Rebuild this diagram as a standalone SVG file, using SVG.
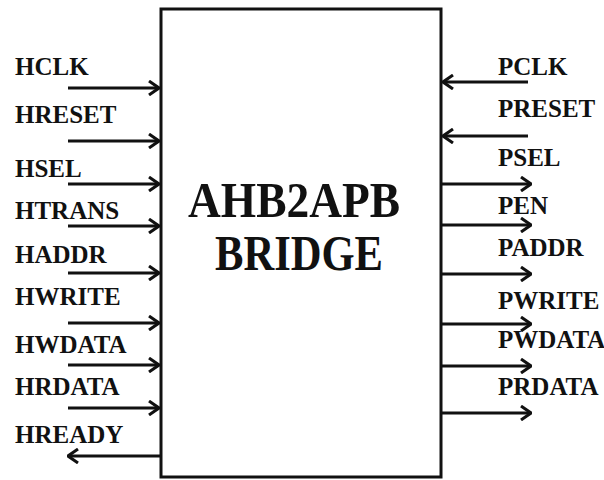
<svg xmlns="http://www.w3.org/2000/svg" width="604" height="480" viewBox="0 0 604 480">
<style>
.lbl{font-family:"Liberation Serif","Times New Roman",serif;font-weight:bold;font-size:25px;fill:#111}
.ttl{font-family:"Liberation Serif","Times New Roman",serif;font-weight:bold;font-size:51px;fill:#111}
.w{stroke:#111;stroke-width:3;fill:none}
.ah{fill:none;stroke:#111;stroke-width:3;stroke-linejoin:miter}
</style>
<defs>
<marker id="arr" viewBox="0 0 12 16" refX="11" refY="8" markerWidth="12" markerHeight="16" markerUnits="userSpaceOnUse" orient="auto">
<path d="M1,1 L11,8 L1,15" class="ah"/>
</marker>
</defs>
<rect width="604" height="480" fill="#fff"/>
<g id="bridge">
<rect x="161" y="9" width="280" height="468" fill="#fff" stroke="#111" stroke-width="3"/>
<text class="ttl" x="294" y="217" text-anchor="middle" textLength="212" lengthAdjust="spacingAndGlyphs">AHB2APB</text>
<text class="ttl" x="299" y="270" text-anchor="middle" textLength="168" lengthAdjust="spacingAndGlyphs">BRIDGE</text>
</g>
<g id="labels-left">
<text class="lbl" x="15" y="75">HCLK</text>
<text class="lbl" x="15" y="123">HRESET</text>
<text class="lbl" x="15" y="177">HSEL</text>
<text class="lbl" x="15" y="219">HTRANS</text>
<text class="lbl" x="15" y="263">HADDR</text>
<text class="lbl" x="15" y="305">HWRITE</text>
<text class="lbl" x="15" y="353">HWDATA</text>
<text class="lbl" x="15" y="395">HRDATA</text>
<text class="lbl" x="15" y="443">HREADY</text>
</g>
<g id="labels-right">
<text class="lbl" x="498" y="75">PCLK</text>
<text class="lbl" x="498" y="117">PRESET</text>
<text class="lbl" x="498" y="166">PSEL</text>
<text class="lbl" x="498" y="214">PEN</text>
<text class="lbl" x="498" y="256">PADDR</text>
<text class="lbl" x="498" y="309">PWRITE</text>
<text class="lbl" x="498" y="348">PWDATA</text>
<text class="lbl" x="498" y="395">PRDATA</text>
</g>
<g id="connectors">
<line class="w" x1="68" y1="88" x2="159" y2="88" marker-end="url(#arr)"/>
<line class="w" x1="68" y1="141" x2="159" y2="141" marker-end="url(#arr)"/>
<line class="w" x1="68" y1="184" x2="159" y2="184" marker-end="url(#arr)"/>
<line class="w" x1="68" y1="226" x2="159" y2="226" marker-end="url(#arr)"/>
<line class="w" x1="68" y1="273" x2="159" y2="273" marker-end="url(#arr)"/>
<line class="w" x1="68" y1="323" x2="159" y2="323" marker-end="url(#arr)"/>
<line class="w" x1="68" y1="365" x2="159" y2="365" marker-end="url(#arr)"/>
<line class="w" x1="68" y1="408" x2="159" y2="408" marker-end="url(#arr)"/>
<line class="w" x1="160" y1="456" x2="68" y2="456" marker-end="url(#arr)"/>
<line class="w" x1="528" y1="82" x2="443" y2="82" marker-end="url(#arr)"/>
<line class="w" x1="528" y1="136" x2="443" y2="136" marker-end="url(#arr)"/>
<line class="w" x1="442" y1="184" x2="531" y2="184" marker-end="url(#arr)"/>
<line class="w" x1="442" y1="225" x2="531" y2="225" marker-end="url(#arr)"/>
<line class="w" x1="442" y1="274" x2="531" y2="274" marker-end="url(#arr)"/>
<line class="w" x1="442" y1="324" x2="531" y2="324" marker-end="url(#arr)"/>
<line class="w" x1="442" y1="366" x2="531" y2="366" marker-end="url(#arr)"/>
<line class="w" x1="442" y1="413" x2="531" y2="413" marker-end="url(#arr)"/>
</g>
</svg>
